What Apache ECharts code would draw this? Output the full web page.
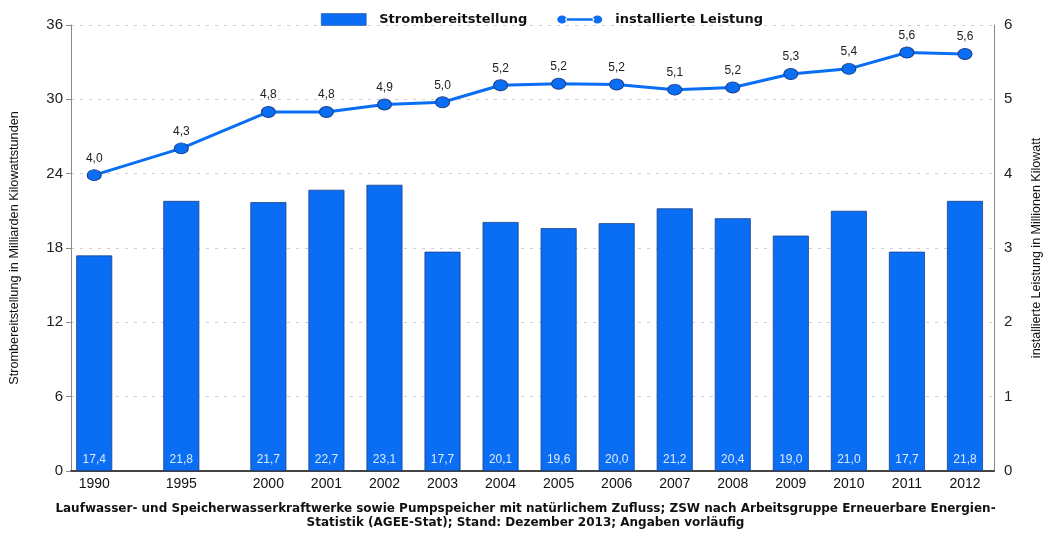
<!DOCTYPE html>
<html><head><meta charset="utf-8">
<script src="https://cdn.jsdelivr.net/npm/echarts@6/dist/echarts.min.js"></script>
<style>html,body{margin:0;padding:0;background:#fff}#c{width:1051px;height:533px}</style>
</head><body><div id="c"></div>
<script>
var years = ['1990','1995','2000','2001','2002','2003','2004','2005','2006','2007','2008','2009','2010','2011','2012'];
var strom = [17.4,21.8,21.7,22.7,23.1,17.7,20.1,19.6,20.0,21.2,20.4,19.0,21.0,17.7,21.8];
var leistung = [3.98,4.34,4.83,4.83,4.93,4.96,5.19,5.21,5.20,5.13,5.16,5.34,5.41,5.63,5.61];
var leftTicks = [0,6,12,18,24,30,36];
var rightTicks = [0,1,2,3,4,5,6];

// slot position on the x axis: the 1990->1995 and 1995->2000 steps take 1.5 slots
function slot(i){ return i === 0 ? 0 : (i === 1 ? 1.5 : i + 1); }
var pos = years.map(function(y,i){ return slot(i); });
function yearAt(v){ for (var i=0;i<pos.length;i++){ if (Math.abs(pos[i]-v)<1e-6) return years[i]; } return ''; }
function fmt(v, d){ return v.toFixed(d).replace('.', ','); }

var BLUE = '#0a6ef5';
var chart = echarts.init(document.getElementById('c'));
chart.setOption({
  animation: false,
  backgroundColor: '#fff',
  legend: {
    top: 8, left: 316,
    itemGap: 30,
    textStyle: {fontFamily: 'DejaVu Sans', fontWeight: 'bold', fontSize: 13, color: '#111', padding: [0,0,0,8]},
    data: [
      {name: 'Strombereitstellung', icon: 'rect', itemStyle: {color: BLUE, borderColor: '#1b3f8a', borderWidth: 0.5}},
      {name: 'installierte Leistung', icon: 'path://M0,5a6,5 0 1,0 12,0a6,5 0 1,0 -12,0ZM44,5a6,5 0 1,0 12,0a6,5 0 1,0 -12,0ZM10,3.5h36v3h-36Z', itemStyle: {color: BLUE, borderColor: BLUE, borderWidth: 0}}
    ],
    itemWidth: 45, itemHeight: 12
  },
  grid: {left: 70, right: 46, top: 25, bottom: 62},
  xAxis: {
    type: 'value', min: -0.4, max: 15.5,
    axisLine: {show: true, onZero: false, lineStyle: {color: '#444', width: 2}},
    axisTick: {show: false},
    splitLine: {show: false},
    axisLabel: {customValues: pos, formatter: function(v){ return yearAt(v); },
      fontFamily: 'Liberation Sans', fontSize: 14, color: '#111', margin: 6}
  },
  yAxis: [{
    type: 'value', min: 0, max: 36, interval: 6,
    name: 'Strombereitstellung in Milliarden Kilowattstunden',
    nameLocation: 'middle', nameGap: 50,
    nameTextStyle: {fontFamily: 'Liberation Sans', fontSize: 12.7, color: '#111'},
    axisLine: {show: true, onZero: false, lineStyle: {color: '#888'}},
    axisTick: {show: true, length: 5, lineStyle: {color: '#888'}},
    axisLabel: {fontFamily: 'Liberation Sans', fontSize: 15, color: '#222', margin: 8,
      formatter: function(v){ return leftTicks.indexOf(v) >= 0 ? String(v) : ''; }},
    splitLine: {show: true, lineStyle: {color: '#d0d0d0', type: [3,6]}}
  },{
    type: 'value', min: 0, max: 6, interval: 1,
    name: 'installierte Leistung in Millionen Kilowatt',
    nameLocation: 'middle', nameGap: 36,
    nameTextStyle: {fontFamily: 'Liberation Sans', fontSize: 12.5, color: '#111'},
    axisLine: {show: true, onZero: false, lineStyle: {color: '#888'}},
    axisTick: {show: false},
    axisLabel: {fontFamily: 'Liberation Sans', fontSize: 15, color: '#222', margin: 10,
      formatter: function(v){ return rightTicks.indexOf(v) >= 0 ? String(v) : ''; }},
    splitLine: {show: false}
  }],
  series: [{
    name: 'Strombereitstellung', type: 'bar', barWidth: 36,
    data: strom.map(function(v,i){ return [pos[i], v]; }),
    itemStyle: {color: BLUE, borderColor: '#1b3f8a', borderWidth: 0.8},
    label: {show: true, position: 'insideBottom', distance: 5, color: '#dde9ff',
      fontFamily: 'Liberation Sans', fontSize: 12,
      formatter: function(p){ return fmt(p.value[1], 1); }}
  },{
    name: 'installierte Leistung', type: 'line', yAxisIndex: 1,
    data: leistung.map(function(v,i){ return [pos[i], v]; }),
    lineStyle: {color: BLUE, width: 3},
    symbol: 'circle', symbolSize: [14, 11],
    itemStyle: {color: BLUE, borderColor: '#1b3f8a', borderWidth: 1},
    label: {show: true, position: 'top', distance: 5, color: '#222',
      fontFamily: 'Liberation Sans', fontSize: 12,
      formatter: function(p){ return fmt(p.value[1], 1); }},
    z: 5
  }],
  graphic: [{
    type: 'text', left: 'center', top: 502,
    style: {
      text: 'Laufwasser- und Speicherwasserkraftwerke sowie Pumpspeicher mit natürlichem Zufluss; ZSW nach Arbeitsgruppe Erneuerbare Energien-\nStatistik (AGEE-Stat); Stand: Dezember 2013; Angaben vorläufig',
      textAlign: 'center', fill: '#111', font: 'bold 12px "DejaVu Sans"', lineHeight: 14
    }
  }]
});
</script></body></html>
